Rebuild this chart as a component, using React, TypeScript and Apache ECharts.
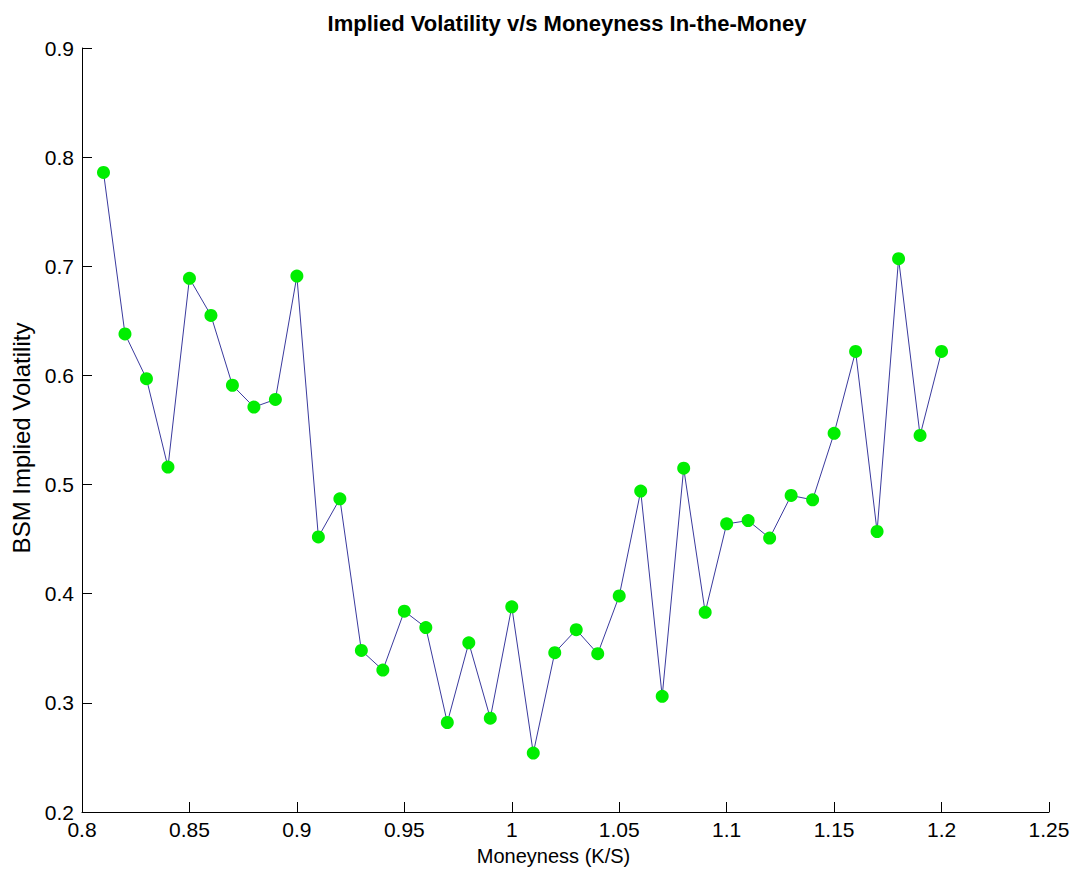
import React, { useEffect, useRef } from "react";
import * as echarts from "echarts";

const moneyness = [
  0.81, 0.82, 0.83, 0.84, 0.85, 0.86, 0.87, 0.88, 0.89, 0.9,
  0.91, 0.92, 0.93, 0.94, 0.95, 0.96, 0.97, 0.98, 0.99, 1.0,
  1.01, 1.02, 1.03, 1.04, 1.05, 1.06, 1.07, 1.08, 1.09, 1.1,
  1.11, 1.12, 1.13, 1.14, 1.15, 1.16, 1.17, 1.18, 1.19, 1.2,
];
const impliedVol = [
  0.786, 0.638, 0.597, 0.516, 0.689, 0.655, 0.591, 0.571, 0.578, 0.691,
  0.452, 0.487, 0.348, 0.330, 0.384, 0.369, 0.282, 0.355, 0.286, 0.388,
  0.254, 0.346, 0.367, 0.345, 0.398, 0.494, 0.306, 0.515, 0.383, 0.464,
  0.467, 0.451, 0.490, 0.486, 0.547, 0.622, 0.457, 0.707, 0.545, 0.622,
];

const titleText = "Implied Volatility v/s Moneyness In-the-Money";
const xName = "Moneyness (K/S)";
const yName = "BSM Implied Volatility";

const FONT = "'Liberation Sans', Arial, sans-serif";

export default function App() {
  const ref = useRef<HTMLDivElement>(null);
  useEffect(() => {
    document.body.style.margin = "0";
    const chart = echarts.init(ref.current!, undefined, { renderer: "svg" });
    const data = moneyness.map((x, i) => [x, impliedVol[i]]);
    const fmt = (v: number) => String(parseFloat(Number(v).toFixed(2)));
    chart.setOption({
      animation: false,
      backgroundColor: "#ffffff",
      title: {
        text: titleText,
        left: 562,
        textAlign: "center",
        top: 7,
        textStyle: { fontFamily: FONT, fontSize: 22, fontWeight: "bold", color: "#000" },
      },
      grid: { left: 82, right: 28, top: 48, bottom: 61, containLabel: false },
      xAxis: {
        type: "value",
        min: 0.8,
        max: 1.25,
        interval: 0.05,
        name: xName,
        nameLocation: "middle",
        nameGap: 34,
        nameTextStyle: { fontFamily: FONT, fontSize: 20, color: "#000", padding: [0, 24, 0, 0] },
        axisLine: { show: true, lineStyle: { color: "#000", width: 1 } },
        axisTick: { show: true, inside: true, length: 10, lineStyle: { color: "#000" } },
        axisLabel: { fontFamily: FONT, fontSize: 21, color: "#000", margin: 7, formatter: fmt, showMinLabel: true, showMaxLabel: true },
        splitLine: { show: false },
      },
      yAxis: {
        type: "value",
        min: 0.2,
        max: 0.9,
        interval: 0.1,
        name: yName,
        nameLocation: "middle",
        nameGap: 48,
        nameTextStyle: { fontFamily: FONT, fontSize: 24, color: "#000", padding: [0, 16, 0, 0] },
        axisLine: { show: true, lineStyle: { color: "#000", width: 1 } },
        axisTick: { show: true, inside: true, length: 10, lineStyle: { color: "#000" } },
        axisLabel: { fontFamily: FONT, fontSize: 21, color: "#000", margin: 8, formatter: fmt, showMinLabel: true, showMaxLabel: true },
        splitLine: { show: false },
      },
      series: [
        {
          type: "line",
          data,
          lineStyle: { color: "#3a3a9e", width: 1 },
          symbol: "circle",
          symbolSize: 13,
          itemStyle: { color: "#00ee00", borderWidth: 0 },
          showAllSymbol: true,
        },
      ],
    });
    return () => chart.dispose();
  }, []);
  return <div ref={ref} style={{ width: 1077, height: 873 }} />;
}
